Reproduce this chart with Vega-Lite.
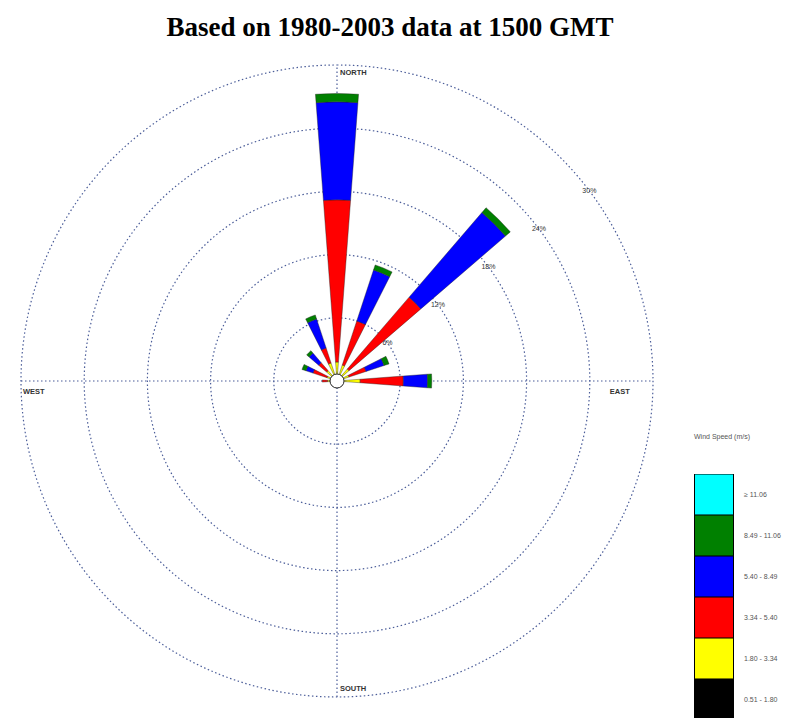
{
  "$schema": "https://vega.github.io/schema/vega-lite/v6.json",
  "width": 632,
  "height": 632,
  "autosize": {"type": "none"},
  "padding": {"left": 21, "top": 65, "right": 141, "bottom": 21},
  "background": "white",
  "title": {
    "text": "Based on 1980-2003 data at 1500 GMT",
    "font": "Liberation Serif",
    "fontSize": 27,
    "fontWeight": "bold",
    "color": "black",
    "anchor": "middle",
    "frame": "group",
    "dx": 53,
    "offset": 21
  },
  "config": {"view": {"stroke": null}},
  "layer": [
    {
      "data": {"values": [{"ring": 6}, {"ring": 12}, {"ring": 18}, {"ring": 24}, {"ring": 30}]},
      "mark": {"type": "arc", "theta": 0, "theta2": 6.2832, "filled": false, "stroke": "#4b5d99", "strokeWidth": 1.2, "strokeDash": [1.5, 2.5]},
      "encoding": {
        "radius": {"field": "ring", "type": "quantitative", "stack": null, "scale": {"type": "linear", "domain": [0, 30], "range": [0, 316], "zero": true}}
      }
    },
    {
      "data": {"values": [{}]},
      "mark": {"type": "rule", "stroke": "#4b5d99", "strokeWidth": 1.2, "strokeDash": [1.5, 2.5]},
      "encoding": {
        "x": {"datum": -30, "type": "quantitative", "scale": {"domain": [-30, 30]}, "axis": null},
        "x2": {"datum": 30},
        "y": {"datum": 0, "type": "quantitative", "scale": {"domain": [-30, 30]}, "axis": null}
      }
    },
    {
      "data": {"values": [{}]},
      "mark": {"type": "rule", "stroke": "#4b5d99", "strokeWidth": 1.2, "strokeDash": [1.5, 2.5]},
      "encoding": {
        "y": {"datum": -30, "type": "quantitative"},
        "y2": {"datum": 30},
        "x": {"datum": 0, "type": "quantitative"}
      }
    },
    {
      "data": {
        "values": [
          {"dir": "N", "deg": 0, "lo": 0.51, "speed": "0.51 - 1.80", "pct": 0.4},
          {"dir": "N", "deg": 0, "lo": 1.80, "speed": "1.80 - 3.34", "pct": 1.4},
          {"dir": "N", "deg": 0, "lo": 3.34, "speed": "3.34 - 5.40", "pct": 15.4},
          {"dir": "N", "deg": 0, "lo": 5.40, "speed": "5.40 - 8.49", "pct": 9.3},
          {"dir": "N", "deg": 0, "lo": 8.49, "speed": "8.49 - 11.06", "pct": 0.8},
          {"dir": "NNE", "deg": 22.5, "lo": 0.51, "speed": "0.51 - 1.80", "pct": 0.4},
          {"dir": "NNE", "deg": 22.5, "lo": 1.80, "speed": "1.80 - 3.34", "pct": 1.2},
          {"dir": "NNE", "deg": 22.5, "lo": 3.34, "speed": "3.34 - 5.40", "pct": 4.4},
          {"dir": "NNE", "deg": 22.5, "lo": 5.40, "speed": "5.40 - 8.49", "pct": 5.1},
          {"dir": "NNE", "deg": 22.5, "lo": 8.49, "speed": "8.49 - 11.06", "pct": 0.5},
          {"dir": "NE", "deg": 45, "lo": 0.51, "speed": "0.51 - 1.80", "pct": 0.3},
          {"dir": "NE", "deg": 45, "lo": 1.80, "speed": "1.80 - 3.34", "pct": 1.2},
          {"dir": "NE", "deg": 45, "lo": 3.34, "speed": "3.34 - 5.40", "pct": 9.0},
          {"dir": "NE", "deg": 45, "lo": 5.40, "speed": "5.40 - 8.49", "pct": 10.6},
          {"dir": "NE", "deg": 45, "lo": 8.49, "speed": "8.49 - 11.06", "pct": 0.6},
          {"dir": "ENE", "deg": 67.5, "lo": 0.51, "speed": "0.51 - 1.80", "pct": 0.3},
          {"dir": "ENE", "deg": 67.5, "lo": 1.80, "speed": "1.80 - 3.34", "pct": 0.9},
          {"dir": "ENE", "deg": 67.5, "lo": 3.34, "speed": "3.34 - 5.40", "pct": 1.7},
          {"dir": "ENE", "deg": 67.5, "lo": 5.40, "speed": "5.40 - 8.49", "pct": 1.8},
          {"dir": "ENE", "deg": 67.5, "lo": 8.49, "speed": "8.49 - 11.06", "pct": 0.5},
          {"dir": "E", "deg": 90, "lo": 0.51, "speed": "0.51 - 1.80", "pct": 0.4},
          {"dir": "E", "deg": 90, "lo": 1.80, "speed": "1.80 - 3.34", "pct": 1.8},
          {"dir": "E", "deg": 90, "lo": 3.34, "speed": "3.34 - 5.40", "pct": 4.1},
          {"dir": "E", "deg": 90, "lo": 5.40, "speed": "5.40 - 8.49", "pct": 2.3},
          {"dir": "E", "deg": 90, "lo": 8.49, "speed": "8.49 - 11.06", "pct": 0.4},
          {"dir": "W", "deg": 270, "lo": 0.51, "speed": "0.51 - 1.80", "pct": 0.6},
          {"dir": "W", "deg": 270, "lo": 1.80, "speed": "1.80 - 3.34", "pct": 0.3},
          {"dir": "W", "deg": 270, "lo": 3.34, "speed": "3.34 - 5.40", "pct": 0.5},
          {"dir": "WNW", "deg": 292.5, "lo": 0.51, "speed": "0.51 - 1.80", "pct": 0.3},
          {"dir": "WNW", "deg": 292.5, "lo": 1.80, "speed": "1.80 - 3.34", "pct": 0.7},
          {"dir": "WNW", "deg": 292.5, "lo": 3.34, "speed": "3.34 - 5.40", "pct": 1.4},
          {"dir": "WNW", "deg": 292.5, "lo": 5.40, "speed": "5.40 - 8.49", "pct": 0.7},
          {"dir": "WNW", "deg": 292.5, "lo": 8.49, "speed": "8.49 - 11.06", "pct": 0.4},
          {"dir": "NW", "deg": 315, "lo": 0.51, "speed": "0.51 - 1.80", "pct": 0.3},
          {"dir": "NW", "deg": 315, "lo": 1.80, "speed": "1.80 - 3.34", "pct": 1.0},
          {"dir": "NW", "deg": 315, "lo": 3.34, "speed": "3.34 - 5.40", "pct": 1.0},
          {"dir": "NW", "deg": 315, "lo": 5.40, "speed": "5.40 - 8.49", "pct": 1.2},
          {"dir": "NW", "deg": 315, "lo": 8.49, "speed": "8.49 - 11.06", "pct": 0.3},
          {"dir": "NNW", "deg": 337.5, "lo": 0.51, "speed": "0.51 - 1.80", "pct": 0.4},
          {"dir": "NNW", "deg": 337.5, "lo": 1.80, "speed": "1.80 - 3.34", "pct": 1.4},
          {"dir": "NNW", "deg": 337.5, "lo": 3.34, "speed": "3.34 - 5.40", "pct": 1.5},
          {"dir": "NNW", "deg": 337.5, "lo": 5.40, "speed": "5.40 - 8.49", "pct": 2.9},
          {"dir": "NNW", "deg": 337.5, "lo": 8.49, "speed": "8.49 - 11.06", "pct": 0.4}
        ]
      },
      "transform": [
        {"stack": "pct", "groupby": ["dir"], "sort": [{"field": "lo", "order": "ascending"}], "as": ["r0", "r1"]},
        {"calculate": "datum.deg - 4.3", "as": "t0"},
        {"calculate": "datum.deg + 4.3", "as": "t1"}
      ],
      "mark": {"type": "arc", "stroke": "#222222", "strokeWidth": 0.4},
      "encoding": {
        "theta": {"field": "t0", "type": "quantitative", "stack": null, "scale": {"type": "linear", "domain": [0, 360], "range": [0, 6.283185307], "zero": false, "nice": false}},
        "theta2": {"field": "t1"},
        "radius": {"field": "r1", "type": "quantitative", "stack": null},
        "radius2": {"field": "r0"},
        "fill": {
          "field": "speed",
          "type": "nominal",
          "scale": {
            "domain": ["≥ 11.06", "8.49 - 11.06", "5.40 - 8.49", "3.34 - 5.40", "1.80 - 3.34", "0.51 - 1.80"],
            "range": ["#00FFFF", "#008000", "#0000FF", "#FF0000", "#FFFF00", "#000000"]
          },
          "legend": {
            "title": "Wind Speed (m/s)",
            "orient": "none",
            "legendX": 673,
            "legendY": 368,
            "titleFont": "Liberation Sans",
            "titleFontSize": 7,
            "titleFontWeight": "normal",
            "titleColor": "#555555",
            "titlePadding": 34,
            "labelFont": "Liberation Sans",
            "labelFontSize": 7,
            "labelColor": "#555555",
            "labelOffset": 10,
            "symbolType": "M-1,-1.05H1V1.05H-1Z",
            "symbolSize": 1521,
            "symbolStrokeColor": "#000000",
            "symbolStrokeWidth": 1,
            "symbolOpacity": 1,
            "clipHeight": 41,
            "rowPadding": 0
          }
        }
      }
    },
    {
      "data": {"values": [{}]},
      "mark": {"type": "arc", "radius": 7, "theta": 0, "theta2": 6.2832, "fill": "white", "stroke": "#222222", "strokeWidth": 1},
      "encoding": {}
    },
    {
      "data": {"values": [{"ring": 6, "label": "6%"}, {"ring": 12, "label": "12%"}, {"ring": 18, "label": "18%"}, {"ring": 24, "label": "24%"}, {"ring": 30, "label": "30%"}]},
      "mark": {"type": "text", "font": "Liberation Sans", "fontSize": 7, "fill": "#333333", "align": "center", "baseline": "middle"},
      "encoding": {
        "theta": {"datum": 53, "type": "quantitative"},
        "radius": {"field": "ring", "type": "quantitative", "stack": null},
        "text": {"field": "label"}
      }
    },
    {
      "data": {"values": [{}]},
      "mark": {"type": "text", "text": "NORTH", "font": "Liberation Sans", "fontSize": 7.5, "fontWeight": "bold", "fill": "#333333", "align": "left", "baseline": "middle", "dx": 3},
      "encoding": {"x": {"datum": 0, "type": "quantitative"}, "y": {"datum": 29.2, "type": "quantitative"}}
    },
    {
      "data": {"values": [{}]},
      "mark": {"type": "text", "text": "SOUTH", "font": "Liberation Sans", "fontSize": 7.5, "fontWeight": "bold", "fill": "#333333", "align": "left", "baseline": "middle", "dx": 3},
      "encoding": {"x": {"datum": 0, "type": "quantitative"}, "y": {"datum": -29.2, "type": "quantitative"}}
    },
    {
      "data": {"values": [{}]},
      "mark": {"type": "text", "text": "WEST", "font": "Liberation Sans", "fontSize": 7.5, "fontWeight": "bold", "fill": "#333333", "align": "left", "baseline": "middle", "dx": 2, "dy": 11},
      "encoding": {"x": {"datum": -30, "type": "quantitative"}, "y": {"datum": 0, "type": "quantitative"}}
    },
    {
      "data": {"values": [{}]},
      "mark": {"type": "text", "text": "EAST", "font": "Liberation Sans", "fontSize": 7.5, "fontWeight": "bold", "fill": "#333333", "align": "left", "baseline": "middle", "dy": 11},
      "encoding": {"x": {"datum": 25.9, "type": "quantitative"}, "y": {"datum": 0, "type": "quantitative"}}
    }
  ]
}
